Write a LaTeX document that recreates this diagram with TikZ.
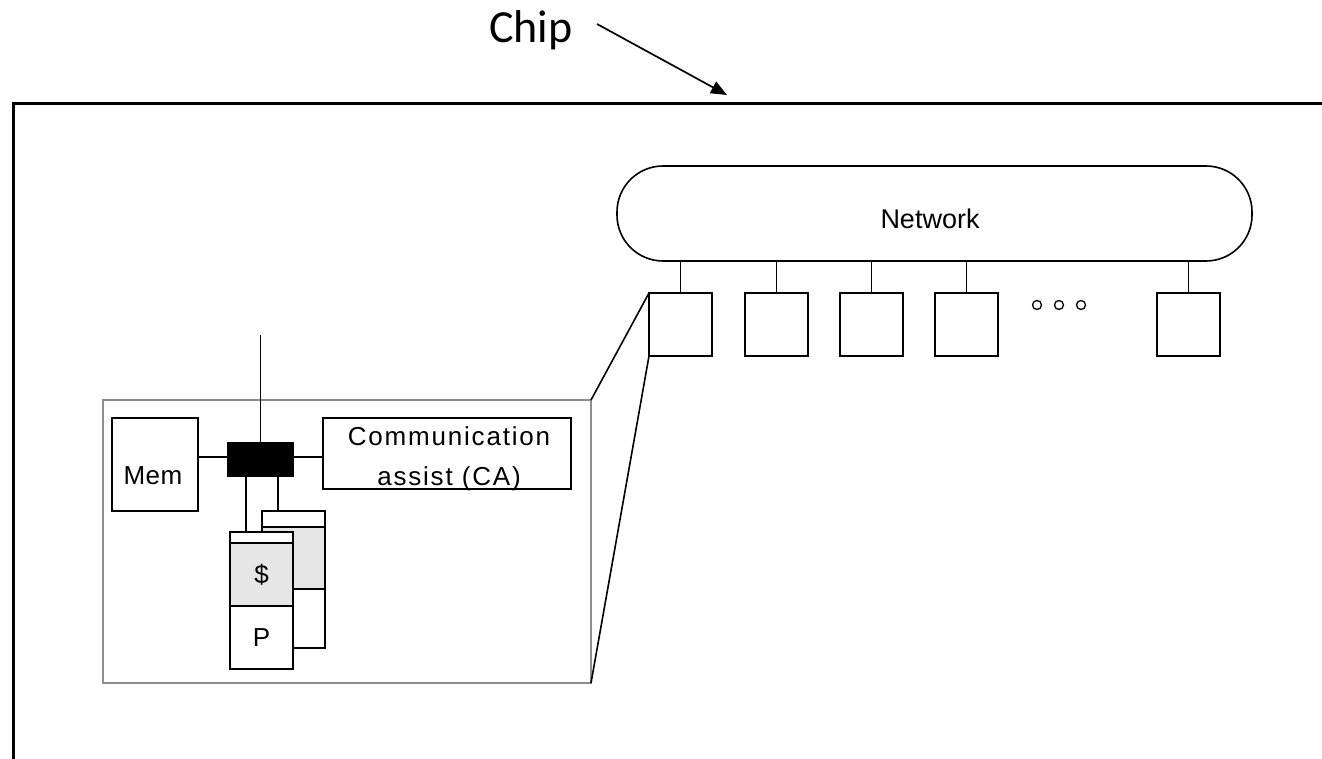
\documentclass[tikz,border=0pt]{standalone}
\usepackage{fontspec}
\setmainfont{Liberation Sans}
\newfontfamily\chipfont{Carlito}
\usetikzlibrary{arrows.meta}
\definecolor{cachegray}{HTML}{E6E6E6}
\definecolor{insetgray}{HTML}{8C8C8C}

\begin{document}
\begin{tikzpicture}[x=1pt, y=-1pt,
  every node/.style={inner sep=0pt, outer sep=0pt},
  box/.style={draw, line width=1.6pt, anchor=north west},
  wire/.style={line width=1.6pt},
  label/.style={font=\fontsize{26}{33}\selectfont},
  dot/.style={draw, circle, line width=1.3pt, minimum size=9pt}]
\useasboundingbox (0,0) rectangle (1322,759);

% chip outline (runs off the right and bottom edges)
\draw[line width=3pt] (13,759) -- (13,104) -- (1322,104);

% chip label and arrow
\node[font=\chipfont\fontsize{46}{54}\selectfont, anchor=base west] (chip) at (489,43) {Chip};
\coordinate (chiptail) at (597,24);
\coordinate (chiptip) at (727,95);
\draw[line width=1.7pt, -{Triangle[length=16pt,width=13pt]}] (chiptail) -- (chiptip);

% interconnection network
\node[box, rounded corners=46pt, minimum width=635pt, minimum height=95pt] (net) at (617,166) {};
\node[font=\fontsize{27}{32}\selectfont, anchor=base] (netlabel) at (930,229) {Network};

% processing nodes attached to the network
\foreach \name/\x in {n1/649, n2/745, n3/840, n4/935, n5/1157} {
  \node[box, minimum width=63pt, minimum height=63pt] (\name) at (\x,293) {};
  \draw[wire] (\name.north) -- (\name.north |- net.south);
}
\node[dot] (d1) at (1037,305) {};
\node[dot] (d2) at (1059,305) {};
\node[dot] (d3) at (1081,305) {};

% magnified view of one node
\node[draw=insetgray, line width=1.6pt, anchor=north west, minimum width=488pt, minimum height=283pt] (inset) at (103,400) {};
\draw[wire] (inset.north east) -- (n1.north west);
\draw[wire] (inset.south east) -- (n1.south west);

\node[box, minimum width=86pt, minimum height=93pt] (mem) at (112,418) {};
\node[label, anchor=base] (memlabel) at (153,484) {\addfontfeatures{LetterSpace=2}Mem};
\node[box, fill=black, minimum width=65pt, minimum height=33pt] (hub) at (228,443) {};
\node[box, minimum width=248pt, minimum height=71pt] (ca) at (323,418) {};
\node[label, anchor=base] (calabel1) at (449,445) {\addfontfeatures{LetterSpace=7}Communication};
\node[label, anchor=base] (calabel2) at (449,485) {\addfontfeatures{LetterSpace=7}assist (CA)};

\coordinate (uplink) at (260.5,335);
\draw[wire] (hub.north) -- (uplink);
\draw[wire] ([yshift=2.5pt]hub.west) -- ([yshift=2.5pt]hub.west -| mem.east);
\draw[wire] ([yshift=2.5pt]hub.east) -- ([yshift=2.5pt]hub.east -| ca.west);

% second processor/cache stack (behind)
\node[box, fill=white, minimum width=63pt, minimum height=16pt] (btop) at (262,511) {};
\node[box, fill=cachegray, minimum width=63pt, minimum height=62pt] (bcache) at (262,527) {};
\node[box, fill=white, minimum width=63pt, minimum height=59pt] (bproc) at (262,589) {};

% first processor/cache stack (front)
\node[box, fill=white, minimum width=63pt, minimum height=11pt] (ftop) at (230,532) {};
\node[box, fill=cachegray, minimum width=63pt, minimum height=63pt] (fcache) at (230,543) {};
\node[box, fill=white, minimum width=63pt, minimum height=63pt] (fproc) at (230,606) {};
\node[label] (cachelabel) at (fcache.center) {\$};
\node[label] (proclabel) at (fproc.center) {P};

\draw[wire] ([xshift=16pt]ftop.north west) -- ([xshift=16pt]ftop.north west |- hub.south);
\draw[wire] ([xshift=16pt]btop.north west) -- ([xshift=16pt]btop.north west |- hub.south);
\end{tikzpicture}
\end{document}
